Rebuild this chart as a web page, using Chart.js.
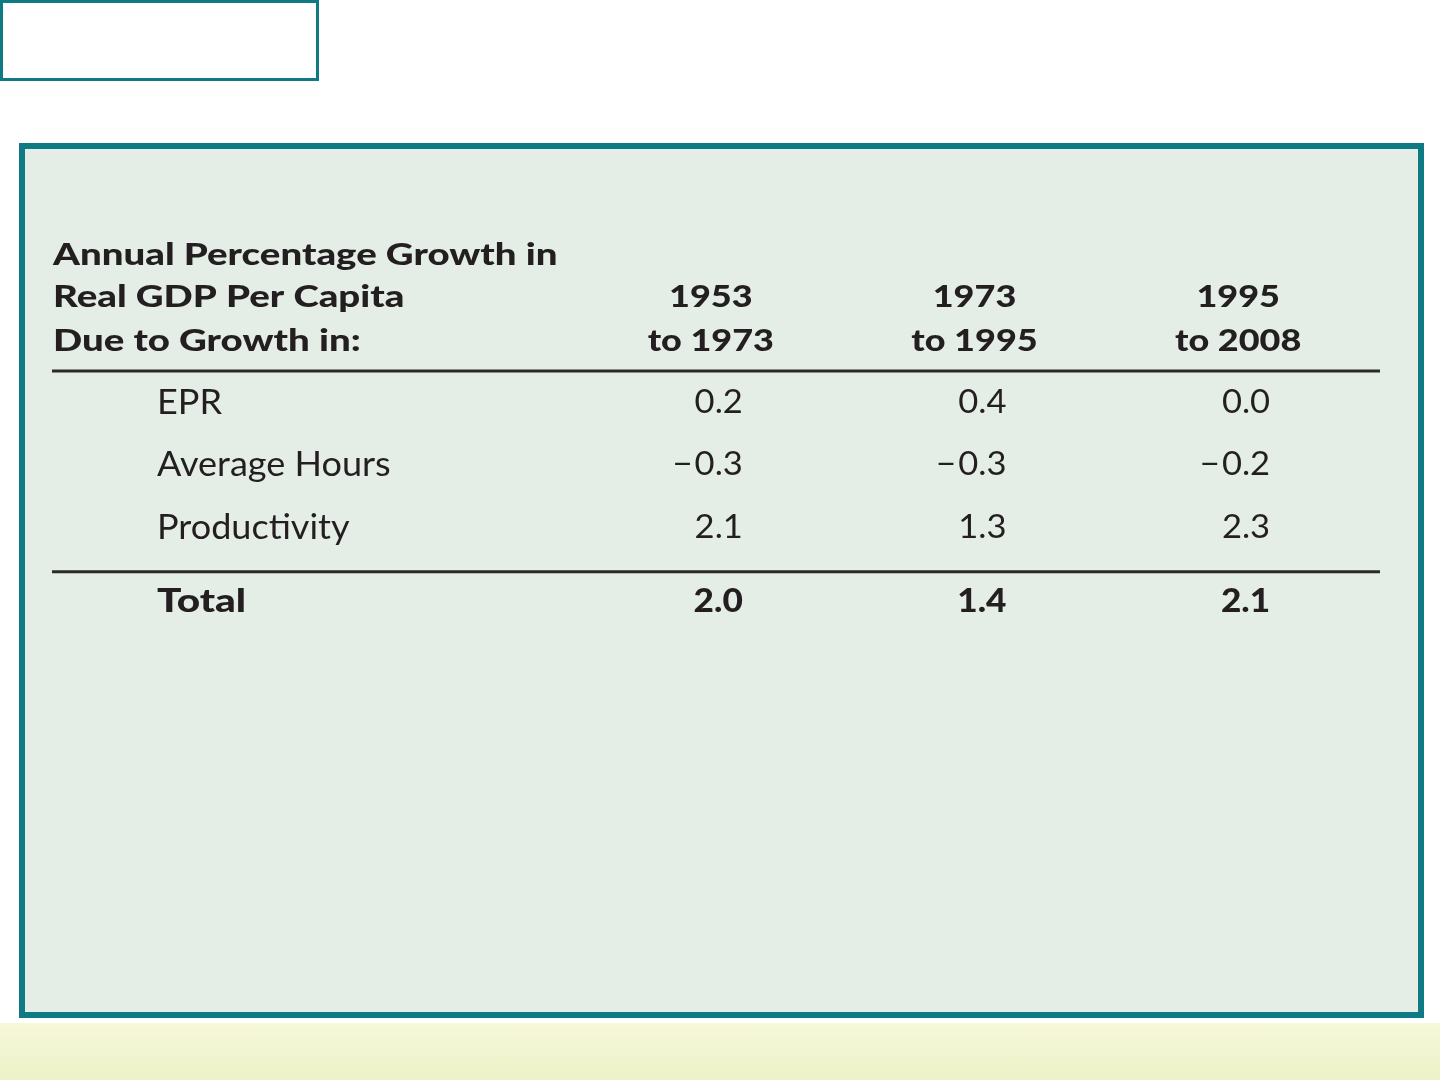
<!DOCTYPE html>
<html><head><meta charset="utf-8">
<script src="https://cdn.jsdelivr.net/npm/chart.js@4.4.1/dist/chart.umd.min.js"></script>
<style>
html,body{margin:0;padding:0;width:1440px;height:1080px;overflow:hidden;background:#fff;}
#tab{position:absolute;left:0;top:0;width:313px;height:75px;border:3px solid #0E7A83;background:#fff;}
#panel{position:absolute;left:19px;top:143px;width:1393px;height:863px;border:6px solid #0E7A83;background:#E4EEE6;}
#band{position:absolute;left:0;top:1023px;width:1440px;height:57px;background:linear-gradient(#F6F8DA,#EDF2C7);}
#wrap{position:absolute;left:0;top:0;width:1440px;height:1080px;}
</style></head>
<body>
<div id="tab"></div><div id="panel"></div><div id="band"></div>
<div id="wrap"><canvas id="c" width="1440" height="1080"></canvas></div>
<script>
const headerTitle = ["Annual Percentage Growth in", "Real GDP Per Capita", "Due to Growth in:"];
const periods = ["1953 to 1973", "1973 to 1995", "1995 to 2008"];
const periodTop = ["1953", "1973", "1995"];
const periodBottom = ["to 1973", "to 1995", "to 2008"];
const rows = ["EPR", "Average Hours", "Productivity", "Total"];
const epr = [0.2, 0.4, 0.0];
const avgHours = [-0.3, -0.3, -0.2];
const productivity = [2.1, 1.3, 2.3];
const total = [2.0, 1.4, 2.1];
const seriesByRow = [epr, avgHours, productivity, total];

function fmt(v){ const s = Math.abs(v).toFixed(1); return (v < 0 ? "\u2212\u200A" : "") + s; }

const tablePlugin = {
  id: 'tableText',
  afterDatasetsDraw(chart, args, o){
    const ctx = chart.ctx, xs = chart.scales.x, ys = chart.scales.y, ca = chart.chartArea;
    function txt(t, x, y, align, font, sx){
      ctx.save();
      ctx.font = font; ctx.textAlign = align; ctx.textBaseline = 'middle';
      ctx.translate(x, y); ctx.scale(sx, 1);
      ctx.fillText(t, 0, 0);
      ctx.restore();
    }
    ctx.save();
    ctx.fillStyle = o.color;
    const headFont = o.boldWeight + ' ' + o.headSize + 'px ' + o.family;
    headerTitle.forEach((t,i)=>{
      txt(t, o.headX, ca.top + o.headOffsets[i], 'left', headFont, o.titleStretch);
    });
    periods.forEach((p,i)=>{
      const x = xs.getPixelForValue(i);
      txt(periodTop[i], x, ca.top + o.headOffsets[1], 'center', headFont, o.headStretch);
      txt(periodBottom[i], x, ca.top + o.headOffsets[2], 'center', headFont, o.headStretch);
    });
    ctx.strokeStyle = o.ruleColor; ctx.lineWidth = o.ruleWidth;
    const rx0 = o.headX - 1, rx1 = ca.right + o.ruleExtend;
    ctx.beginPath(); ctx.moveTo(rx0, ca.top); ctx.lineTo(rx1, ca.top); ctx.stroke();
    const totalY = ys.getPixelForValue(rows.length-1) + o.totalGap;
    const r2 = totalY - o.totalRuleAbove;
    ctx.beginPath(); ctx.moveTo(rx0, r2); ctx.lineTo(rx1, r2); ctx.stroke();
    rows.forEach((r,ri)=>{
      const isTotal = ri === rows.length-1;
      const y = ys.getPixelForValue(ri) + (isTotal ? o.totalGap : 0);
      if (isTotal) {
        txt(r, o.rowX, y, 'left', o.boldWeight + ' ' + o.totalSize + 'px ' + o.family, o.totalStretch);
      } else {
        txt(r, o.rowX, y, 'left', '400 ' + o.rowSize + 'px ' + o.family, o.rowStretch);
      }
      const nf = (isTotal ? o.boldWeight : '400') + ' ' + o.numSize + 'px ' + o.family;
      seriesByRow[ri].forEach((v,ci)=>{
        txt(fmt(v), xs.getPixelForValue(ci) + o.numRight, y, 'right', nf, isTotal ? o.numBoldStretch : o.numStretch);
      });
    });
    ctx.restore();
  }
};

new Chart(document.getElementById('c'), {
  type: 'scatter',
  data: { labels: periods, datasets: [{ data: [], pointRadius: 0 }] },
  options: {
    responsive: false, animation: false,
    layout: { padding: { left: 579, right: 70, top: 371, bottom: 459 } },
    plugins: {
      legend: { display: false }, tooltip: { enabled: false },
      tableText: {
        family: 'Lato, "Open Sans", sans-serif', color: '#231F20', boldWeight: '900',
        headSize: 30, titleStretch: 1.28, headStretch: 1.2, rowSize: 35, rowStretch: 1.03,
        totalSize: 33, totalStretch: 1.23, numSize: 32, numStretch: 1.08, numBoldStretch: 1.1,
        headX: 53, rowX: 157, headOffsets: [-116, -74, -30],
        ruleColor: '#2A2A2A', ruleWidth: 3, ruleExtend: 10,
        totalGap: 12, totalRuleAbove: 30, numRight: 32
      }
    },
    scales: {
      x: { type: 'category', labels: periods, offset: true, display: false },
      y: { type: 'category', labels: rows, offset: true, display: false }
    }
  },
  plugins: [tablePlugin]
});
</script>
</body></html>
